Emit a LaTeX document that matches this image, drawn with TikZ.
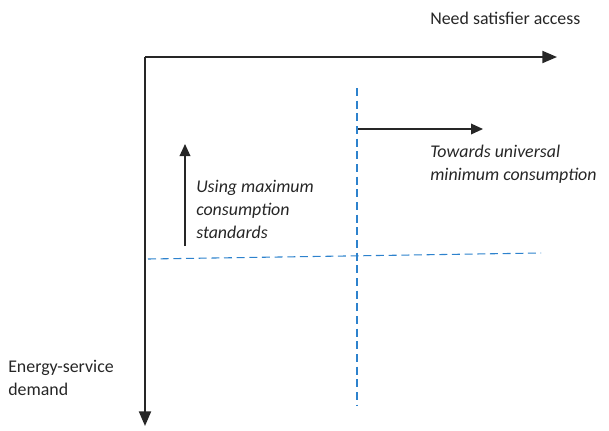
\documentclass[tikz,border=0pt]{standalone}
\usepackage{fontspec}
\setmainfont{Carlito}
\usetikzlibrary{positioning,arrows.meta}

\definecolor{splitblue}{RGB}{45,130,205}

\begin{document}
\begin{tikzpicture}[x=0.75pt,y=-0.75pt,
	axisline/.style={line width=1.5pt,black!85,-{Triangle[length=11pt,width=9pt]}},
	moveline/.style={line width=1pt,black!85,-{Triangle[length=9pt,width=8pt]}},
	splitline/.style={splitblue,line width=0.8pt,dash pattern=on 6pt off 3.5pt},
	label/.style={font=\fontsize{13.4}{16.9}\selectfont,align=left,inner sep=0pt,text=black!85}]
	\useasboundingbox (0,0) rectangle (609,430);
	% axes
	\coordinate (corner) at (145,57);
	\coordinate (xend) at (557,57);
	\coordinate (yend) at (145,426);
	\draw[axisline] (corner) -- (xend);
	\draw[axisline] (corner) -- (yend);
	\node[label,anchor=west] (xlab) at (430,18) {Need satisfier access};
	\node[label,anchor=north west] (ylab) at (8,360) {Energy-service\\demand};
	% split lines
	\coordinate (vtop) at (357,88);
	\coordinate (vbot) at (357,406);
	\coordinate (hleft) at (148,259);
	\coordinate (hright) at (541,253);
	\draw[splitline] (vtop) -- (vbot);
	\draw[splitline] (hleft) -- (hright);
	% moves
	\coordinate (upfrom) at (185,246);
	\coordinate (upto) at (185,144);
	\coordinate (rfrom) at (358,129);
	\coordinate (rto) at (483,129);
	\draw[moveline] (upfrom) -- (upto);
	\draw[moveline] (rfrom) -- (rto);
	\node[label,anchor=north west,font=\fontsize{13.4}{17.3}\selectfont\itshape] (uplab) at (196,180) {Using maximum\\consumption\\standards};
	\node[label,anchor=north west,font=\fontsize{13.4}{16.9}\selectfont\itshape] (rlab) at (430,145) {Towards universal\\minimum consumption};
\end{tikzpicture}
\end{document}
